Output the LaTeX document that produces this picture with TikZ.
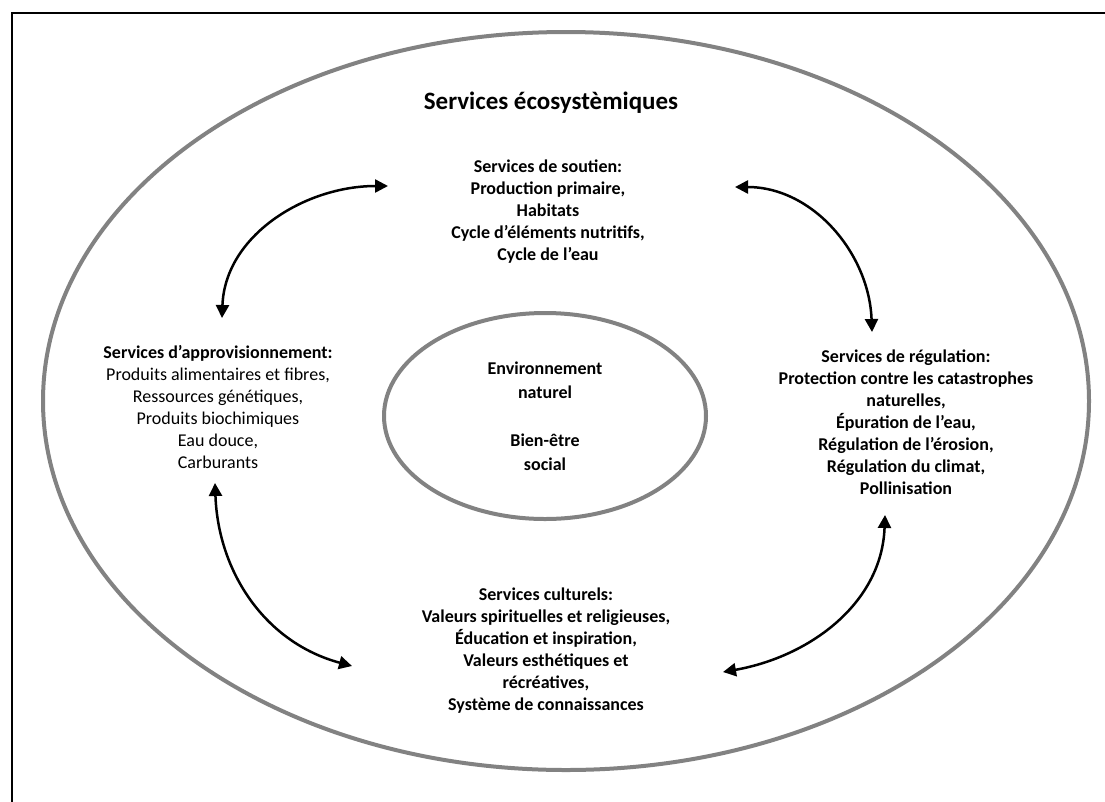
\documentclass[tikz,border=0pt]{standalone}
\usepackage{fontspec}
\setmainfont{Carlito}
\usetikzlibrary{arrows.meta,shapes.geometric}
\definecolor{ringgray}{RGB}{130,130,130}
\begin{document}
\begin{tikzpicture}[x=1pt,y=1pt,
  ring/.style={draw=ringgray, line width=4pt, ellipse, inner sep=0pt},
  lbl/.style={align=center, font=\fontsize{18}{22}\selectfont\bfseries, inner sep=0pt},
  link/.style={{Triangle[length=13pt,width=13pt]}-{Triangle[length=13pt,width=13pt]}, line width=2.5pt, black}
]
\useasboundingbox (0,0) rectangle (1105,-801);
\clip (0,0) rectangle (1105,-801);
\node[draw=black, line width=2pt, minimum width=1110, minimum height=810, anchor=north west, inner sep=0pt] (frame) at (10.5,-11.5) {};

\node[ring, minimum width=1046, minimum height=738] (outer) at (566,-401) {};
\node[ring, minimum width=322, minimum height=206, align=center,
      font=\fontsize{18}{24}\selectfont\bfseries] (inner) at (545,-416)
  {Environnement\\naturel\\[24pt]Bien-être\\social};

\node[font=\fontsize{25}{30}\selectfont\bfseries, inner sep=0pt] (title) at (551,-103) {Services écosystèmiques};

\node[lbl] (soutien) at (548,-212) {Services de soutien:\\Production primaire,\\Habitats\\Cycle d’éléments nutritifs,\\Cycle de l’eau};

\node[lbl] (approv) at (218,-407) {Services d’approvisionnement:\\\mdseries Produits alimentaires et fibres,\\\mdseries Ressources génétiques,\\\mdseries Produits biochimiques\\\mdseries Eau douce,\\\mdseries Carburants};

\node[lbl] (regul) at (906,-422) {Services de régulation:\\Protection contre les catastrophes\\naturelles,\\Épuration de l’eau,\\Régulation de l’érosion,\\Régulation du climat,\\Pollinisation};

\node[lbl] (cult) at (546,-651) {Services culturels:\\Valeurs spirituelles et religieuses,\\Éducation et inspiration,\\Valeurs esthétiques et\\récréatives,\\Système de connaissances};

\coordinate (a1) at (222,-318);
\coordinate (b1) at (388,-186);
\coordinate (a2) at (735,-187);
\coordinate (b2) at (872,-332);
\coordinate (a3) at (215,-483);
\coordinate (b3) at (352,-666);
\coordinate (a4) at (885,-515);
\coordinate (b4) at (723,-672);

\draw[link] (a1) to[out=88, in=180] (b1);
\draw[link] (a2) to[out=0, in=92] (b2);
\draw[link] (a3) to[out=-88, in=165] (b3);
\draw[link] (a4) to[out=-92, in=10] (b4);
\end{tikzpicture}
\end{document}
